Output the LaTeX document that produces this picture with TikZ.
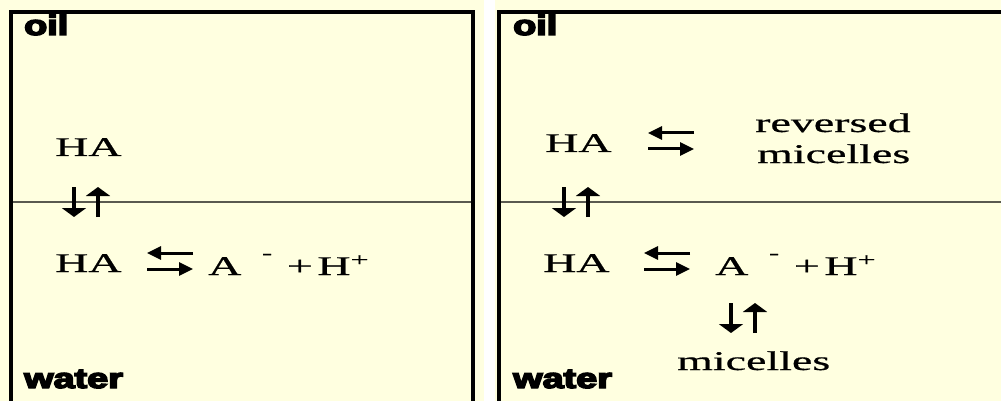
\documentclass[tikz,border=0pt]{standalone}
\usepackage{fontspec}
\setmainfont{Liberation Serif}[FakeBold=0.5]
\newfontfamily\phasefont{Liberation Sans Bold}[FakeBold=5]
\usepackage{graphicx}
\usetikzlibrary{arrows.meta}
\usepackage{xcolor}
\definecolor{cellbg}{RGB}{255,255,224}
\definecolor{surfline}{RGB}{90,90,80}
\newcommand{\wide}[1]{\scalebox{1.7}[1]{#1}}
\newcommand{\phasewide}[1]{\scalebox{1.35}[1]{#1}}
\newcommand{\ions}{\wide{A\hspace{0.45em}\raisebox{0.6em}{\fontsize{18}{18}\selectfont -}%
  \hspace{0.32em}+\hspace{0.1em}H\textsuperscript{+}}}
\tikzset{
  frame/.style   = {draw=black, line width=4pt},
  surface/.style = {draw=surfline, line width=1.3pt},
  chem/.style    = {font=\fontsize{27}{31}\selectfont, inner sep=0pt, anchor=base west},
  phase/.style   = {font=\phasefont\fontsize{28}{32}\selectfont,
                    inner sep=0pt, anchor=base west},
  hhead/.style   = {-{Triangle[length=14pt, width=13pt]}, line width=3pt},
  vhead/.style   = {-{Triangle[length=9pt, width=24pt]}, line width=3.5pt},
  eqpair/.pic    = {
    \draw[hhead] (23,-8) -- (-23,-8);
    \draw[hhead] (-23,8) -- (23,8);
  },
  vpair/.pic     = {
    \draw[vhead] (-12,-15) -- (-12,15);
    \draw[vhead] (12,15) -- (12,-15);
  },
}

\begin{document}
\begin{tikzpicture}[x=1pt, y=-1pt]
  \useasboundingbox (0,0) rectangle (1001,401);
  \fill[cellbg] (0,0) rectangle (1001,401);
  \fill[white] (484,0) rectangle (495,401);
  \clip (0,0) rectangle (1001,401);

  % left cell
  \draw[frame] (11,12) rectangle (473,430);
  \draw[surface] (13,202) -- (471,202);
  \node[phase] (oilL) at (24,35) {\phasewide{oil}};
  \node[phase] (waterL) at (24,388) {\phasewide{water}};
  \node[chem] (haOilL) at (55,156) {\wide{HA}};
  \pic at (86,202) {vpair};
  \node[chem] (haWaterL) at (55,272) {\wide{HA}};
  \pic at (170,261) {eqpair};
  \node[chem] (ionsL) at (208,275) {\ions};

  % right cell
  \draw[frame] (499,12) rectangle (1030,430);
  \draw[surface] (501,202) -- (1001,202);
  \node[phase] (oilR) at (513,35) {\phasewide{oil}};
  \node[phase] (waterR) at (513,388) {\phasewide{water}};
  \node[chem] (haOilR) at (545,152) {\wide{HA}};
  \pic at (671,141) {eqpair};
  \node[chem] (revR) at (755,132) {\wide{reversed}};
  \node[chem] (revmicR) at (757,163) {\wide{micelles}};
  \pic at (576,202) {vpair};
  \node[chem] (haWaterR) at (543,272) {\wide{HA}};
  \pic at (667,261) {eqpair};
  \node[chem] (ionsR) at (715,275) {\ions};
  \pic at (743,318) {vpair};
  \node[chem] (micR) at (677,370) {\wide{micelles}};
\end{tikzpicture}
\end{document}
